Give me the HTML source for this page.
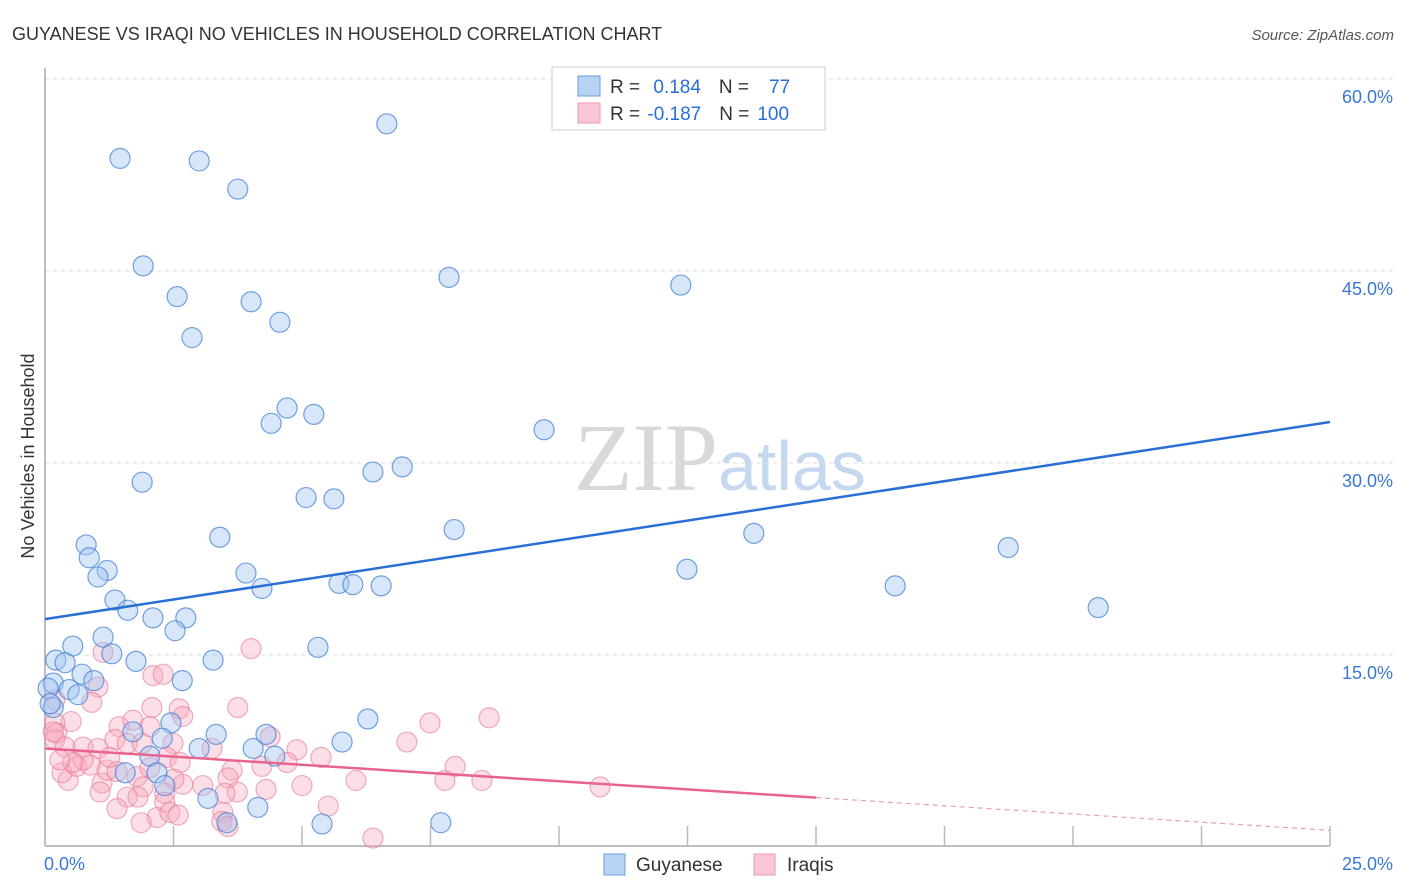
<!DOCTYPE html>
<html><head><meta charset="utf-8"><style>
body{margin:0;background:#fff;font-family:"Liberation Sans",sans-serif;}
#wrap{position:relative;width:1406px;height:892px;overflow:hidden;}
</style></head><body>
<div id="wrap">
<svg id="svg" width="1406" height="892" xmlns="http://www.w3.org/2000/svg">
<text x="12" y="40" font-size="18" fill="#333">GUYANESE VS IRAQI NO VEHICLES IN HOUSEHOLD CORRELATION CHART</text>
<text x="1394" y="40" font-size="15" fill="#555" font-style="italic" text-anchor="end">Source: ZipAtlas.com</text>
<text x="34" y="456" font-size="18" fill="#333" transform="rotate(-90 34 456)" text-anchor="middle">No Vehicles in Household</text>
<text x="718" y="490" font-size="96" fill="#d8d8d8" font-family="Liberation Serif,serif" text-anchor="end">ZIP</text>
<text x="718" y="490" font-size="70" fill="#c6d8f0">atlas</text>
<g id="grid"></g><g id="pts"></g><g id="lines"></g>
<g>
<rect x="552" y="67" width="273" height="63" fill="#fff" stroke="#ccc"/>
<rect x="578" y="76" width="22" height="20" fill="#b8d2f4" stroke="#6a9de0"/>
<rect x="578" y="103" width="22" height="20" fill="#f8c6d4" stroke="#eb9ab0"/>
<text x="610" y="93" font-size="19" fill="#333">R = <tspan fill="#2a6fd6" dx="8">0.184</tspan><tspan fill="#333" dx="18">N =</tspan><tspan fill="#2a6fd6" dx="20">77</tspan></text>
<text x="610" y="120" font-size="19" fill="#333">R = <tspan fill="#2a6fd6" dx="2">-0.187</tspan><tspan fill="#333" dx="18">N =</tspan><tspan fill="#2a6fd6" dx="8">100</tspan></text>
</g>
<g>
<rect x="604" y="854" width="21" height="21" fill="#b8d2f4" stroke="#6a9de0"/>
<text x="636" y="871" font-size="19" fill="#333">Guyanese</text>
<rect x="754" y="854" width="21" height="21" fill="#f8c6d4" stroke="#eb9ab0"/>
<text x="787" y="871" font-size="19" fill="#333">Iraqis</text>
</g>
</svg>
</div>
<script>
const yTicks=[15,30,45,60];
const yTickLabels=["15.0%","30.0%","45.0%","60.0%"];
const xTicks=[0,2.5,5,7.5,10,12.5,15,17.5,20,22.5,25];
const xEndLabels=["0.0%","25.0%"];
const blueX=[1.46,3.0,3.75,6.65,1.91,2.57,4.01,7.86,12.37,4.57,2.86,4.71,5.23,4.40,9.71,1.89,6.95,6.38,5.08,5.62,7.96,3.40,13.79,18.74,0.80,0.86,1.21,1.03,3.91,5.72,5.99,6.54,4.22,12.49,16.54,20.49,1.36,1.61,2.10,2.74,2.53,1.13,0.54,1.30,0.21,0.39,1.77,3.27,5.31,0.72,0.95,2.67,0.16,0.47,0.64,0.16,2.45,3.33,6.28,1.71,2.28,3.00,4.05,4.30,4.47,5.78,2.04,1.56,2.18,2.33,3.17,4.14,3.54,5.39,7.70,0.06,0.1];
const blueY=[53.8,53.6,51.4,56.5,45.4,43.0,42.6,44.5,43.9,41.0,39.8,34.3,33.8,33.1,32.6,28.5,29.7,29.3,27.3,27.2,24.8,24.2,24.5,23.4,23.6,22.6,21.6,21.1,21.4,20.6,20.5,20.4,20.2,21.7,20.4,18.7,19.3,18.5,17.9,17.9,16.9,16.4,15.7,15.1,14.6,14.4,14.5,14.6,15.6,13.5,13.0,13.0,12.8,12.3,11.9,10.9,9.7,8.8,10.0,9.0,8.5,7.7,7.7,8.8,7.1,8.2,7.1,5.8,5.8,4.8,3.8,3.1,1.9,1.8,1.9,12.4,11.2];
const pinkX=[4.01,1.13,2.10,2.30,1.03,0.91,2.08,2.61,2.68,3.75,7.49,8.64,7.04,0.51,0.19,0.23,1.44,1.71,2.04,0.19,0.39,0.74,1.03,1.36,1.60,1.89,2.49,3.25,2.37,4.38,4.90,5.37,4.71,4.22,3.64,7.98,7.78,8.50,6.05,5.00,4.30,3.56,3.74,3.50,3.07,2.68,2.51,1.79,1.11,1.07,0.45,0.33,0.62,0.88,1.21,1.40,1.91,1.60,1.81,2.33,2.33,1.40,2.18,2.43,2.59,1.87,3.46,3.44,3.56,5.51,6.38,0.74,0.54,0.29,2.04,0.16,0.19,10.80,1.26,2.63];
const pinkY=[15.5,15.2,13.4,13.5,12.5,11.3,10.9,10.8,10.2,10.9,9.7,10.1,8.2,9.8,9.7,8.9,9.4,9.9,9.4,8.4,7.8,7.8,7.7,8.4,8.1,8.1,8.1,7.7,7.0,8.6,7.6,7.0,6.6,6.3,6.0,6.3,5.2,5.2,5.2,4.8,4.5,5.4,4.3,4.2,4.8,4.9,5.3,5.5,5.0,4.3,5.2,5.8,6.3,6.4,6.0,5.9,4.7,3.9,3.9,4.2,3.5,3.0,2.3,2.7,2.5,1.9,2.7,2.0,1.6,3.2,0.7,6.8,6.6,6.8,6.2,9.0,11.5,4.7,7.0,6.6];
const blueTrend=[17.8,33.2];
const pinkTrend=[7.7,1.3];
const pinkSolidEnd=15;
const X0=45,X1=1330,Y0=847,PXPER=192/15;
const sx=v=>X0+(v/25)*(X1-X0);
const sy=v=>Y0-v*PXPER;
const NS="http://www.w3.org/2000/svg";
function mk(tag,attrs,parent){const e=document.createElementNS(NS,tag);for(const k in attrs)e.setAttribute(k,attrs[k]);document.getElementById(parent).appendChild(e);return e;}
const svg=document.getElementById('svg');
// grid
yTicks.forEach((t,i)=>{
 const l=mk('line',{x1:X0,x2:1394,y1:sy(t),y2:sy(t),stroke:'#ddd','stroke-dasharray':'4,4'},'grid');
 
 
 const tx=mk('text',{x:1393,y:sy(t)+24,'font-size':18,fill:'#3a78d8','text-anchor':'end'},'grid');
 tx.textContent=yTickLabels[i];
 
 
});
const tl=mk('line',{x1:X0,x2:1394,y1:79,y2:79,stroke:'#ddd','stroke-dasharray':'4,4'},'grid');


const ax=mk('line',{x1:X0,x2:1330,y1:846,y2:846,stroke:'#aaa','stroke-width':1.5},'grid');


const ay=mk('line',{x1:X0,x2:X0,y1:68,y2:846,stroke:'#aaa','stroke-width':1.5},'grid');


xTicks.forEach(t=>{
 const l=mk('line',{x1:sx(t),x2:sx(t),y1:826,y2:846,stroke:'#bbb','stroke-width':1.5},'grid');
 
 
});
const xl0=mk('text',{x:44,y:870,'font-size':18,fill:'#3a78d8'},'grid');xl0.textContent=xEndLabels[0];


const xl1=mk('text',{x:1393,y:870,'font-size':18,fill:'#3a78d8','text-anchor':'end'},'grid');xl1.textContent=xEndLabels[1];


// points
pinkX.forEach((x,i)=>{
 const c=mk('circle',{cx:sx(x),cy:sy(pinkY[i]),r:10,fill:'rgba(246,168,190,0.38)',stroke:'rgba(230,120,150,0.6)','stroke-width':1.2},'pts');
 
 
});
blueX.forEach((x,i)=>{
 const c=mk('circle',{cx:sx(x),cy:sy(blueY[i]),r:10,fill:'rgba(160,196,240,0.42)',stroke:'rgba(70,130,215,0.75)','stroke-width':1.2},'pts');
 
 
});
// trend lines
const bl=mk('line',{x1:sx(0),y1:sy(blueTrend[0]),x2:sx(25),y2:sy(blueTrend[1]),stroke:'#2a6fd6','stroke-width':2.5},'lines');


const pm=pinkTrend[0]+(pinkTrend[1]-pinkTrend[0])*pinkSolidEnd/25;
const pl=mk('line',{x1:sx(0),y1:sy(pinkTrend[0]),x2:sx(pinkSolidEnd),y2:sy(pm),stroke:'#e8648e','stroke-width':2.5},'lines');


const pd=mk('line',{x1:sx(pinkSolidEnd),y1:sy(pm),x2:sx(25),y2:sy(pinkTrend[1]),stroke:'#e8a0b6','stroke-width':1.2,'stroke-dasharray':'5,4'},'lines');


</script>
</body></html>
